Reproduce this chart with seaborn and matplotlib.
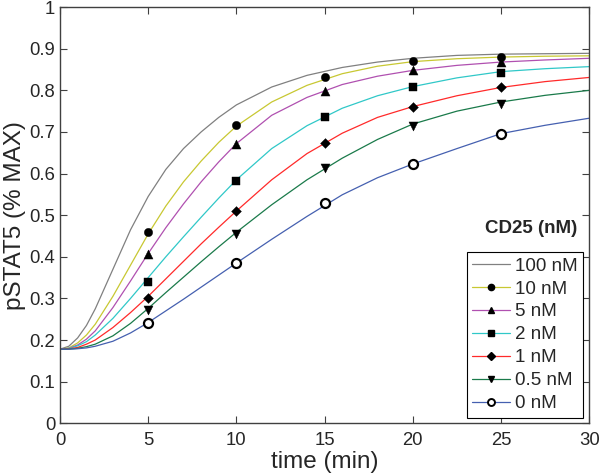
import numpy as np
import pandas as pd
import matplotlib
matplotlib.use("Agg")
import matplotlib.pyplot as plt
from matplotlib.lines import Line2D
from matplotlib.ticker import FormatStrFormatter
import seaborn as sns

# model curves
t_curve = [0, 0.5, 1, 1.5, 2, 3, 4, 5, 6, 7, 8, 9, 10, 12, 14, 16, 18, 20, 22.5, 25, 27.5, 30]
fit_100 = [0.178, 0.185, 0.205, 0.235, 0.275, 0.370, 0.465, 0.545, 0.610, 0.660, 0.700, 0.735,
           0.765, 0.808, 0.836, 0.855, 0.868, 0.877, 0.884, 0.887, 0.888, 0.889]
fit_10 = [0.178, 0.181, 0.193, 0.212, 0.238, 0.305, 0.380, 0.455, 0.522, 0.580, 0.630, 0.675,
          0.714, 0.772, 0.812, 0.840, 0.858, 0.869, 0.876, 0.880, 0.882, 0.883]
fit_5 = [0.178, 0.180, 0.188, 0.202, 0.222, 0.278, 0.342, 0.408, 0.470, 0.527, 0.580, 0.628,
         0.672, 0.740, 0.783, 0.814, 0.834, 0.848, 0.860, 0.868, 0.873, 0.877]
fit_2 = [0.178, 0.180, 0.186, 0.196, 0.212, 0.252, 0.300, 0.350, 0.400, 0.448, 0.495, 0.541,
         0.585, 0.660, 0.715, 0.757, 0.787, 0.809, 0.830, 0.845, 0.852, 0.857]
fit_1 = [0.178, 0.179, 0.182, 0.190, 0.200, 0.230, 0.266, 0.305, 0.347, 0.389, 0.431, 0.471,
         0.510, 0.585, 0.648, 0.697, 0.735, 0.761, 0.787, 0.807, 0.821, 0.831]
fit_05 = [0.178, 0.178, 0.180, 0.184, 0.190, 0.210, 0.240, 0.276, 0.314, 0.351, 0.388, 0.424,
          0.459, 0.525, 0.585, 0.637, 0.682, 0.719, 0.750, 0.772, 0.788, 0.800]
fit_0 = [0.178, 0.178, 0.179, 0.181, 0.185, 0.197, 0.217, 0.242, 0.270, 0.298, 0.327, 0.356,
         0.385, 0.442, 0.497, 0.549, 0.590, 0.623, 0.660, 0.696, 0.716, 0.733]

# measured points
t_mark = [5, 10, 15, 20, 25]
obs_10 = [0.460, 0.717, 0.832, 0.870, 0.881]
obs_5 = [0.406, 0.672, 0.799, 0.848, 0.868]
obs_2 = [0.340, 0.583, 0.737, 0.809, 0.842]
obs_1 = [0.301, 0.510, 0.674, 0.761, 0.808]
obs_05 = [0.272, 0.454, 0.613, 0.714, 0.768]
obs_0 = [0.240, 0.384, 0.529, 0.622, 0.695]

labels = ['100 nM', '10 nM', '5 nM', '2 nM', '1 nM', '0.5 nM', '0 nM']
colors = ['#808080', '#c8c832', '#b050b0', '#30c8c8', '#ff2a2a', '#1a7a4a', '#4560b0']
markers = [None, 'o', '^', 's', 'D', 'v', 'o']
msizes = [0, 6, 6.5, 6, 5, 6.5, 6.5]
fits = [fit_100, fit_10, fit_5, fit_2, fit_1, fit_05, fit_0]
obs = [None, obs_10, obs_5, obs_2, obs_1, obs_05, obs_0]

sns.set_style('ticks')
plt.rcParams['font.family'] = ['Liberation Sans', 'DejaVu Sans']

fig = plt.figure(figsize=(6, 4.75), dpi=100)
ax = fig.add_axes([0.1, 0.109, 0.882, 0.876])

for lab, col, fit in zip(labels, colors, fits):
    sns.lineplot(x=t_curve, y=fit, color=col, lw=0.9, ax=ax, legend=False)

for lab, mk, ms, o in zip(labels, markers, msizes, obs):
    if o is None:
        continue
    df = pd.DataFrame({'t': t_mark, 'v': o})
    if lab == '0 nM':
        sns.scatterplot(data=df, x='t', y='v', marker='o', s=ms ** 2, facecolor='white',
                        edgecolor='black', linewidth=1.6, ax=ax, zorder=5)
    else:
        sns.scatterplot(data=df, x='t', y='v', marker=mk, s=ms ** 2, color='black',
                        edgecolor='black', linewidth=0.3, ax=ax, zorder=5)

ax.set_xlim(0, 30)
ax.set_ylim(0, 1)
ax.set_xticks([0, 5, 10, 15, 20, 25, 30])
ax.set_yticks(np.arange(0, 1.01, 0.1))
ax.yaxis.set_major_formatter(FormatStrFormatter('%g'))
ax.tick_params(direction='in', length=5, width=0.8, color='#404040', labelsize=13.3,
               top=True, right=True)
ax.tick_params(axis='x', pad=6)
ax.tick_params(axis='y', pad=3.5)
for sp in ax.spines.values():
    sp.set_visible(True)
    sp.set_color('#404040')
    sp.set_linewidth(1.0)

ax.set_xlabel('time (min)', fontsize=17.5, labelpad=2)
ax.set_ylabel('pSTAT5 (% MAX)', fontsize=17.5, labelpad=2)

handles = []
for lab, col, mk, ms in zip(labels, colors, markers, msizes):
    if lab == '0 nM':
        h = Line2D([], [], color=col, lw=0.9, marker='o', markersize=5,
                   markerfacecolor='white', markeredgecolor='black', markeredgewidth=1.4)
    elif mk is None:
        h = Line2D([], [], color=col, lw=0.9)
    else:
        h = Line2D([], [], color=col, lw=0.9, marker=mk, markersize=ms * 0.75,
                   markerfacecolor='black', markeredgecolor='black')
    handles.append(h)

leg = ax.legend(handles, labels, loc='lower right', bbox_to_anchor=(0.988, 0.013),
                borderaxespad=0, fontsize=13.5, frameon=True, fancybox=False,
                framealpha=1, edgecolor='black', borderpad=0.3, labelspacing=0.31,
                handlelength=2.0, handletextpad=0.25)
leg.get_frame().set_linewidth(0.8)

ax.text(0.89, 0.469, 'CD25 (nM)', transform=ax.transAxes, ha='center', va='center',
        fontsize=13.5, fontweight='bold')

fig.savefig('out.png', dpi=100)
